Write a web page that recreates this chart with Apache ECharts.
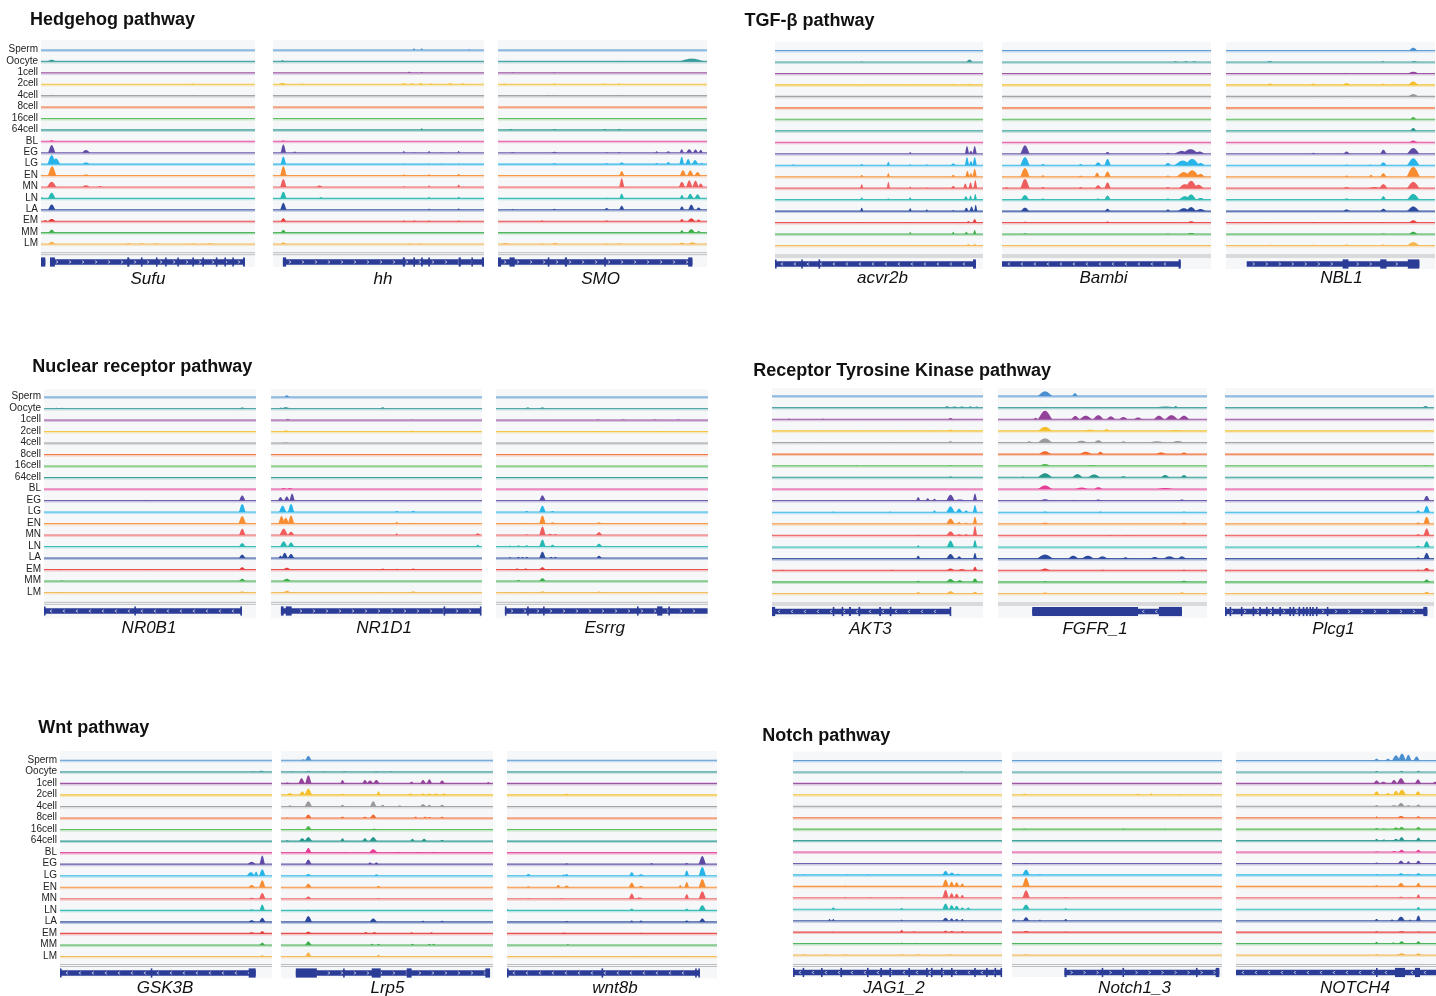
<!DOCTYPE html>
<html><head><meta charset="utf-8">
<script src="https://cdn.jsdelivr.net/npm/echarts/dist/echarts.min.js"></script>
<style>html,body{margin:0;padding:0;background:#fff}#c{width:1436px;height:996px}</style>
</head><body><div id="c"></div>
<script>
// ---------------- DATA ----------------
const STAGES = ['Sperm','Oocyte','1cell','2cell','4cell','8cell','16cell','64cell','BL','EG','LG','EN','MN','LN','LA','EM','MM','LM'];
const PATHWAYS = ['Hedgehog pathway','TGF-β pathway','Nuclear receptor pathway','Receptor Tyrosine Kinase pathway','Wnt pathway','Notch pathway'];
const GENES = [['Sufu','hh','SMO'],['acvr2b','Bambi','NBL1'],['NR0B1','NR1D1','Esrrg'],['AKT3','FGFR_1','Plcg1'],['GSK3B','Lrp5','wnt8b'],['JAG1_2','Notch1_3','NOTCH4']];

// peaks: [stage, position (% of locus), height (track spacings), width (% of locus)]
const SUFU_PEAKS = [
 ['Oocyte',5,0.15,4],['BL',5,0.1,2.5],['4cell',5,0.05,2],['4cell',71,0.05,1.5],['2cell',71,0.05,1.5],
 ['EG',5,0.67,3.5],['EG',21,0.23,4],
 ['LG',5,0.79,4],['LG',7,0.5,4],['LG',21,0.15,3.5],
 ['EN',5.2,0.8,4],['EN',21,0.1,3],
 ['MN',5,0.45,4.5],['MN',21,0.15,3.5],['MN',27.6,0.08,2],
 ['LN',5,0.5,3.5],['LN',0.5,0.08,2],
 ['LA',5,0.47,3.5],
 ['EM',5,0.2,3.5],['EM',2,0.08,2],
 ['MM',5,0.26,3],
 ['LM',5,0.2,3.5],['LM',41,0.06,3],['LM',47,0.06,3],['LM',54,0.05,3],['LM',71,0.05,3],['LM',79,0.06,4]
];
const HH_PEAKS = [
 ['Sperm',66.8,0.15,1.2],['Sperm',70.5,0.15,1.2],['Sperm',93,0.05,1.5],
 ['Oocyte',4.5,0.1,2],
 ['1cell',64.5,0.1,2],['1cell',70.5,0.08,1.2],
 ['2cell',4.5,0.1,4],['2cell',62,0.08,3],['2cell',66,0.08,2],['2cell',70,0.1,2],['2cell',75,0.07,2],['2cell',84,0.08,3],['2cell',90,0.07,2],['2cell',14,0.05,1.5],
 ['64cell',70.5,0.14,1],['BL',4.8,0.08,2],
 ['EG',4.9,0.73,2.6],['EG',10.4,0.1,1.5],['EG',62,0.15,1.2],['EG',74,0.15,1.2],['EG',88,0.15,1.2],['EG',67,0.05,1],['EG',80,0.05,1.5],
 ['LG',4.9,0.67,2.6],['LG',62,0.05,1],['LG',74,0.05,1],['LG',80,0.05,1],['LG',88,0.05,1],
 ['EN',4.9,0.82,3],['EN',62,0.12,1],['EN',74,0.12,1.2],['EN',88,0.14,1.5],
 ['MN',4.9,0.7,3],['MN',22,0.12,3],['MN',62,0.07,1],['MN',74,0.14,1],['MN',88,0.2,1.5],
 ['LN',4.9,0.58,3],['LN',22.7,0.1,2],['LN',74,0.14,1],['LN',88,0.15,1.2],
 ['LA',4.9,0.61,3],['LA',74,0.1,1],['LA',88,0.12,1.2],
 ['EM',4.9,0.27,2.5],['EM',62,0.05,1.5],['EM',67,0.05,1.5],['EM',74,0.05,1.5],['EM',88,0.05,1.5],
 ['MM',4.9,0.24,2.5],
 ['LM',4.9,0.15,2.5],['LM',65,0.05,2],['LM',70,0.05,1.5]
];
const SMO_PEAKS = [
 ['Oocyte',92.7,0.25,12],['Oocyte',5,0.04,3],['Oocyte',27,0.04,2],['Oocyte',52,0.04,2],['Oocyte',58,0.04,3],
 ['1cell',27,0.06,1],['1cell',7,0.05,1],
 ['2cell',3,0.05,2],['2cell',27,0.06,2],['2cell',51,0.06,2],['2cell',58,0.06,2],
 ['4cell',24,0.05,3],['4cell',27,0.06,2],['4cell',58,0.05,2],
 ['64cell',6,0.06,2],['64cell',27,0.06,2],['64cell',51,0.05,2],['64cell',58,0.05,2],
 ['EG',7,0.06,2],['EG',27,0.08,3],['EG',52,0.05,2],['EG',58,0.05,2],['EG',75.9,0.12,1.5],['EG',81.5,0.12,2],['EG',87.9,0.3,2],['EG',91.5,0.3,3],['EG',94.5,0.28,2.5],['EG',97,0.25,2],
 ['LG',27,0.08,2],['LG',52,0.08,2],['LG',59.2,0.15,2.5],['LG',75.9,0.1,1.5],['LG',81.5,0.18,2],['LG',87.9,0.64,2.2],['LG',91,0.45,2.5],['LG',94.3,0.35,3],['LG',97.4,0.1,2],
 ['EN',59.2,0.38,2.5],['EN',88.5,0.47,3],['EN',92,0.45,3],['EN',95.5,0.3,3],
 ['MN',59.2,0.76,2.4],['MN',88,0.45,3],['MN',91.5,0.58,3],['MN',94.5,0.55,3],['MN',97,0.3,2.5],
 ['LN',52,0.06,1.5],['LN',59.2,0.41,2.2],['LN',88,0.3,2],['LN',92,0.4,3],['LN',95.5,0.35,3],
 ['LA',7,0.06,1.5],['LA',27,0.08,2],['LA',52,0.15,2.5],['LA',59.2,0.35,2.5],['LA',88,0.3,2.2],['LA',92.5,0.45,3],['LA',96,0.2,2.5],
 ['EM',21,0.05,2],['EM',52,0.05,2],['EM',88,0.18,2],['EM',92.5,0.25,3.5],['EM',96,0.15,2],
 ['MM',88,0.2,2],['MM',92.5,0.3,3.5],['MM',96,0.15,2],
 ['LM',3.6,0.08,4],['LM',21,0.05,2],['LM',27.3,0.1,3],['LM',52,0.05,2],['LM',58,0.05,3],['LM',88,0.12,3],['LM',93,0.15,4]
];
const ACVR2B_PEAKS = [
 ['Oocyte',41.7,0.05,1],['Oocyte',93.5,0.22,3],['1cell',41.7,0.05,1],
 ['2cell',8.8,0.04,1],['2cell',41.7,0.05,1.5],['2cell',65,0.04,1],['2cell',85.7,0.05,1.5],['2cell',93.5,0.05,3],
 ['EG',65,0.15,1.2],['EG',92.3,0.67,2],['EG',96,0.67,2],['EG',94.2,0.25,2],
 ['LG',8.8,0.08,1],['LG',41.7,0.1,1.5],['LG',54.5,0.3,1.5],['LG',65,0.08,1],['LG',73,0.08,1],['LG',85.7,0.15,2.5],['LG',92.3,0.7,2],['LG',96,0.7,2],['LG',94.2,0.35,2],
 ['EN',41.7,0.15,1.5],['EN',54.5,0.3,1.5],['EN',85.7,0.15,2],['EN',92.5,0.5,2],['EN',96,0.7,2],['EN',94.2,0.3,2],
 ['MN',41.7,0.35,1.5],['MN',54.5,0.55,1.5],['MN',65,0.15,1],['MN',73,0.06,1],['MN',85.7,0.2,2],['MN',91.5,0.4,2],['MN',94,0.5,2],['MN',96.3,0.7,1.8],
 ['LN',41.7,0.2,1.5],['LN',54.5,0.1,1.5],['LN',65,0.2,1.5],['LN',73,0.06,1],['LN',91.8,0.3,2],['LN',94,0.35,1.5],['LN',96.3,0.5,1.5],
 ['LA',41.7,0.3,1.5],['LA',65,0.25,1.5],['LA',73,0.15,1.2],['LA',85.7,0.1,1],['LA',92,0.3,2],['LA',94.5,0.4,2],['LA',96.5,0.55,1.5],
 ['EM',41.7,0.05,1],['EM',65,0.05,1],['EM',85.7,0.05,1],['EM',96,0.3,2],['EM',93,0.12,2],
 ['MM',65,0.2,1],['MM',85.7,0.2,1.2],['MM',92,0.2,1.5],['MM',96,0.35,1.5],
 ['LM',65,0.05,1],['LM',85.7,0.06,1],['LM',93,0.12,2],['LM',96,0.15,1.5],['LM',41.7,0.04,1.5]
];
const BAMBI_PEAKS = [
 ['Oocyte',83,0.06,2],['Oocyte',88,0.07,2],['Oocyte',92,0.07,2],
 ['EG',11,0.73,4.5],['EG',50.5,0.15,2.5],['EG',79.4,0.08,2],['EG',86,0.25,7],['EG',90.2,0.4,8],['EG',94.5,0.2,5],
 ['LG',11,0.7,4.5],['LG',19.6,0.1,2],['LG',37.6,0.1,2],['LG',46,0.25,3],['LG',50.5,0.55,3],['LG',79.4,0.2,3],['LG',86.5,0.4,8],['LG',91,0.55,7],['LG',95,0.2,4],
 ['EN',11,0.75,4.5],['EN',19.6,0.12,2],['EN',37.6,0.08,2],['EN',45.5,0.35,2.5],['EN',50.5,0.45,3],['EN',79.4,0.1,2],['EN',87,0.4,7],['EN',91,0.55,7],['EN',95,0.25,4],
 ['MN',2.2,0.08,2],['MN',11,0.8,4.5],['MN',19.6,0.1,2],['MN',37.6,0.1,2],['MN',46,0.25,3],['MN',50.5,0.5,3],['MN',79.4,0.1,2],['MN',87.5,0.35,6],['MN',90.5,0.64,6],['MN',94,0.3,5],
 ['LN',11,0.4,4],['LN',19.6,0.1,2],['LN',46,0.1,2],['LN',50.5,0.35,3],['LN',79.4,0.1,2],['LN',87.5,0.3,6],['LN',90.5,0.45,5],['LN',95,0.15,4],
 ['LA',11,0.3,4],['LA',50.5,0.2,2.5],['LA',79.4,0.15,2],['LA',87,0.25,6],['LA',90.5,0.35,5],['LA',95,0.18,5],
 ['EM',11,0.08,2],['EM',50.5,0.1,2],['EM',79.4,0.05,1.5],['EM',90.5,0.12,4],
 ['MM',11,0.06,2],['MM',79.4,0.05,1.5],['MM',90.5,0.1,4],
 ['LM',11,0.05,2],['LM',50.5,0.04,2],['LM',90.5,0.05,4]
];
const NBL1_PEAKS = [
 ['Sperm',89.6,0.25,4],
 ['Oocyte',21,0.08,3],['Oocyte',75,0.06,2],['Oocyte',90,0.08,3],
 ['1cell',57.7,0.05,2],['1cell',89.6,0.15,5],
 ['2cell',21,0.12,3],['2cell',41.8,0.1,3],['2cell',57.7,0.15,4],['2cell',75.3,0.1,2],['2cell',89.6,0.3,5],
 ['4cell',41.8,0.04,2],['4cell',57.7,0.04,2],['4cell',89.6,0.2,5],
 ['16cell',89.6,0.2,3],['64cell',89.6,0.25,3],['BL',89.6,0.15,4],
 ['EG',41.8,0.08,2],['EG',57.7,0.2,3],['EG',75.3,0.35,3],['EG',89.6,0.5,6],
 ['LG',57.7,0.05,2],['LG',69,0.05,2],['LG',75.3,0.25,3],['LG',89.6,0.6,6],
 ['EN',57.7,0.1,2],['EN',69.4,0.15,2],['EN',75.3,0.3,3],['EN',89.6,0.85,6.5],
 ['MN',57.7,0.1,3],['MN',71,0.1,6],['MN',75.3,0.35,4],['MN',89.6,0.55,6],
 ['LN',57.7,0.1,3],['LN',75.3,0.3,2.5],['LN',89.6,0.5,6],['LN',28,0.04,2],
 ['LA',57.7,0.15,3],['LA',75.3,0.2,3],['LA',89.6,0.4,6],
 ['EM',21,0.05,2],['EM',41.8,0.05,2],['EM',57.7,0.05,2],['EM',75.3,0.05,2],['EM',89.6,0.2,4],
 ['MM',89.6,0.2,4],['MM',75.3,0.05,2],
 ['LM',21,0.06,4],['LM',41.8,0.06,3],['LM',57.7,0.08,4],['LM',75.3,0.08,3],['LM',89.6,0.3,6]
];
const NR0B1_PEAKS = [
 ['Oocyte',6,0.06,2],['Oocyte',8.5,0.06,2],['Oocyte',93.5,0.1,2.5],
 ['EG',93.5,0.44,3],['EG',48,0.04,1.5],['LG',93.5,0.7,3.2],['EN',93.5,0.65,3.5],['MN',93.5,0.55,3],
 ['LN',93.5,0.3,3],['LA',93.5,0.3,3],['EM',93.5,0.2,3],['EM',8,0.05,2],['EM',48,0.04,1.5],
 ['MM',93.5,0.2,3],['MM',8.5,0.05,1.5],['LM',93.5,0.1,3],['LM',6,0.04,2],['LM',8.5,0.04,2]
];
const NR1D1_PEAKS = [
 ['Sperm',7.5,0.15,2.5],
 ['Oocyte',4.5,0.08,2],['Oocyte',7,0.12,4],['Oocyte',53,0.12,2],
 ['1cell',8,0.08,2],['1cell',67,0.04,1],['2cell',7,0.08,4],['2cell',67,0.08,1.5],['2cell',98,0.06,1.5],
 ['4cell',7,0.04,4],['BL',6,0.08,3],['BL',9,0.08,3],
 ['EG',4.5,0.3,2.5],['EG',7.5,0.35,2.5],['EG',10,0.6,2.5],
 ['LG',5.5,0.55,3.5],['LG',9.5,0.7,3],['LG',59.6,0.1,1.5],['LG',67.4,0.1,2],
 ['EN',5,0.65,3],['EN',9.5,0.7,3],['EN',7,0.5,3],['EN',59.6,0.15,1.5],['EN',67.4,0.04,1.5],
 ['MN',6,0.55,4],['MN',9.5,0.3,3],['MN',59.6,0.15,1.2],['MN',98,0.15,2.5],
 ['LN',6,0.45,3.5],['LN',9.5,0.35,3],['LN',98,0.15,2],
 ['LA',4.5,0.2,2],['LA',6.5,0.45,3],['LA',9.5,0.35,3],
 ['EM',7.5,0.15,4],['EM',53,0.08,2],['EM',59.6,0.06,2],['EM',67.4,0.08,2.5],
 ['MM',7.5,0.2,4],
 ['LM',7.5,0.15,4],['LM',67.4,0.1,3],['LM',52,0.04,2],['LM',98,0.06,2]
];
const ESRRG_PEAKS = [
 ['Oocyte',15,0.1,2.5],['Oocyte',21.9,0.1,3],
 ['1cell',48,0.04,2],['1cell',60,0.04,2],['1cell',75,0.04,2],['1cell',86,0.04,2],
 ['2cell',48.6,0.05,1],['2cell',78,0.05,1],
 ['EG',21.9,0.45,3],
 ['LG',14.5,0.08,2],['LG',21.9,0.55,3],['LG',26.7,0.08,2],
 ['EN',14.5,0.05,2],['EN',21.9,0.7,3],['EN',26.7,0.1,2.5],['EN',48.6,0.1,2.5],
 ['MN',14.5,0.05,2],['MN',21.9,0.75,3],['MN',25.5,0.1,2.5],['MN',28,0.08,2],['MN',48.6,0.25,3],
 ['LN',6.6,0.08,1.5],['LN',10.6,0.1,2],['LN',14.5,0.1,2.5],['LN',21.9,0.6,3],['LN',26.7,0.15,2.5],['LN',48.6,0.25,3],
 ['LA',6.6,0.08,1.2],['LA',10.6,0.1,1.5],['LA',12.5,0.08,1.5],['LA',14.5,0.1,1.5],['LA',21.9,0.55,3],['LA',26,0.1,1.5],['LA',28,0.1,1.5],['LA',48.6,0.2,2.5],
 ['EM',7,0.05,1.5],['EM',10,0.08,3],['EM',14,0.08,3],['EM',21.9,0.2,3],['EM',48.6,0.05,1],
 ['MM',10.6,0.08,2],['MM',21.9,0.25,3],
 ['LM',6,0.04,2],['LM',12,0.05,2],['LM',21.9,0.1,3],['LM',28,0.06,2],['LM',48.6,0.08,3],['LM',76,0.05,2],['LM',83,0.04,2]
];
const AKT3_PEAKS = [
 ['Oocyte',54,0.04,1],['Oocyte',83,0.12,3],['Oocyte',86.5,0.1,3],['Oocyte',90,0.1,3],['Oocyte',94,0.12,2],['Oocyte',97,0.1,2],
 ['1cell',8,0.05,1.5],['1cell',24,0.05,1.5],['1cell',84.6,0.1,2.5],
 ['2cell',4,0.04,2],['2cell',8,0.04,2],['2cell',22,0.04,2],['2cell',43,0.04,2],['2cell',60,0.04,2],['2cell',77,0.05,1.5],['2cell',84.6,0.1,3],['2cell',96,0.05,1.5],
 ['4cell',10,0.03,2],['4cell',24,0.03,2],['4cell',40,0.03,2],['4cell',56,0.03,2],['4cell',84.6,0.1,3],
 ['16cell',40,0.04,1.5],['16cell',84.6,0.05,2],['64cell',84.6,0.08,2],
 ['EG',69.3,0.3,2],['EG',73.8,0.2,2],['EG',77,0.15,2],['EG',84.6,0.5,4],['EG',89,0.1,5],['EG',96.2,0.6,2],
 ['LG',29,0.05,1.5],['LG',56,0.05,1.5],['LG',77,0.15,1.5],['LG',84.6,0.5,4],['LG',88.7,0.3,3],['LG',92,0.15,2],['LG',96.2,0.6,2],
 ['EN',84.6,0.45,4],['EN',88.7,0.15,2],['EN',92,0.1,1.5],['EN',96.2,0.6,2],
 ['MN',69.3,0.05,1.5],['MN',84.6,0.35,4],['MN',88.7,0.1,3],['MN',92,0.1,2],['MN',96.2,0.8,2],
 ['LN',69.3,0.15,1.5],['LN',84.6,0.55,3.5],['LN',96.2,0.6,2],
 ['LA',69.3,0.25,2],['LA',84.6,0.4,4],['LA',88.7,0.2,2.5],['LA',96.2,0.5,1.8],
 ['EM',5,0.04,1.5],['EM',57,0.04,2],['EM',84.6,0.15,4],['EM',90,0.1,4],['EM',96.2,0.3,2],
 ['MM',69.3,0.1,1.5],['MM',84.6,0.25,4],['MM',89,0.15,3],['MM',96.2,0.3,2.5],
 ['LM',10,0.05,4],['LM',20,0.05,4],['LM',35,0.05,4],['LM',44,0.05,3],['LM',55,0.05,4],['LM',69.3,0.12,2.5],['LM',84.6,0.2,4],['LM',96.2,0.15,2.5]
];
const FGFR1_PEAKS = [
 ['Sperm',22.5,0.4,7],['Sperm',36.8,0.25,2.5],
 ['Oocyte',22.5,0.05,4],['Oocyte',80,0.1,10],['Oocyte',85,0.15,2],
 ['1cell',18,0.12,2],['1cell',22.5,0.73,7],['1cell',37,0.28,4],['1cell',42,0.3,6],['1cell',48,0.35,5],['1cell',54,0.25,4],['1cell',60,0.2,4],['1cell',67,0.15,4],['1cell',77,0.3,5],['1cell',83,0.35,6],['1cell',89,0.3,5],
 ['2cell',22.5,0.35,7],['2cell',44,0.1,6],['2cell',52,0.15,3],['2cell',85,0.08,6],
 ['4cell',15,0.1,3],['4cell',22.5,0.35,7],['4cell',40,0.15,6],['4cell',48,0.2,4],['4cell',60,0.1,3],['4cell',76,0.1,8],['4cell',86,0.12,6],
 ['8cell',22.5,0.25,6],['8cell',42,0.2,6],['8cell',49,0.2,3],['8cell',78,0.15,5],['8cell',89,0.15,3],
 ['16cell',22.5,0.15,5],['16cell',45,0.05,5],
 ['64cell',12,0.05,2],['64cell',22.5,0.35,7],['64cell',38,0.28,5],['64cell',46,0.25,6],['64cell',60,0.1,3],['64cell',80,0.2,4],['64cell',89,0.2,3],
 ['BL',22.5,0.3,7],['BL',40,0.12,6],['BL',48,0.15,4],['BL',80,0.08,8],
 ['EG',22.5,0.12,5],['EG',36,0.05,2],['EG',48,0.1,3],['EG',88,0.1,3],
 ['LG',22.5,0.05,3],['LG',49,0.05,2],['LG',89,0.05,2],
 ['EN',22.5,0.1,4],['EN',89,0.1,3],
 ['MN',54,0.04,2],['MN',62,0.04,2],
 ['LA',22.5,0.35,8],['LA',36,0.25,5],['LA',43,0.25,6],['LA',50,0.2,5],['LA',61,0.12,3],['LA',75,0.15,4],['LA',82,0.2,6],['LA',88,0.2,4],
 ['EM',22.5,0.15,5],['EM',50,0.05,2],['EM',89,0.05,2],
 ['MM',22.5,0.05,2],['MM',89,0.1,3],
 ['LM',22.5,0.08,5],['LM',88,0.1,3]
];
const PLCG1_PEAKS = [
 ['Oocyte',96,0.15,3],['2cell',96,0.05,2],['16cell',96,0.04,2],
 ['EG',96.5,0.4,3],
 ['LG',92.4,0.15,2],['LG',96.5,0.55,3],
 ['EN',92.4,0.12,2],['EN',96.5,0.6,3.2],
 ['MN',92.4,0.12,2],['MN',96.5,0.6,3],
 ['LN',92.4,0.12,2],['LN',96.5,0.5,3],
 ['LA',92.4,0.12,1.5],['LA',96.5,0.5,3],
 ['EM',92.4,0.05,2],['EM',96.5,0.2,3],
 ['MM',96.5,0.2,3],
 ['LM',4,0.03,2],['LM',60,0.03,2],['LM',96.5,0.15,3]
];
const GSK3B_PEAKS = [
 ['Oocyte',95,0.1,3],['Oocyte',91,0.05,3],
 ['EG',90.4,0.2,4],['EG',95.4,0.75,2.5],
 ['LG',90,0.3,4],['LG',95.4,0.55,3],['LG',92.5,0.35,2],
 ['EN',90.4,0.2,3],['EN',95.4,0.6,3],
 ['MN',90.4,0.1,3],['MN',95.4,0.5,3],
 ['LN',90.4,0.08,3],['LN',95.4,0.5,2.5],
 ['LA',90.4,0.15,3],['LA',95.4,0.35,3],
 ['EM',90.4,0.1,3],['EM',95.4,0.2,2.5],
 ['MM',95.4,0.2,2.5],['LM',95.4,0.1,2.5]
];
const LRP5_PEAKS = [
 ['Sperm',12.9,0.38,3],['Sperm',10.5,0.08,2],
 ['Oocyte',5,0.05,2],['Oocyte',12.9,0.08,3],['Oocyte',20,0.05,2],['Oocyte',30,0.05,3],['Oocyte',45,0.05,3],['Oocyte',52,0.05,3],
 ['1cell',3,0.08,2],['1cell',9.7,0.45,3],['1cell',12.9,0.7,3],['1cell',29,0.3,2],['1cell',39.6,0.3,2.5],['1cell',42,0.25,3],['1cell',45,0.3,3],['1cell',61.6,0.15,2],['1cell',67,0.3,2.5],['1cell',70,0.35,2.5],['1cell',76,0.25,2.5],['1cell',97.8,0.1,2],
 ['2cell',4.2,0.15,3],['2cell',12.9,0.55,3.5],['2cell',10,0.3,3],['2cell',29,0.1,2],['2cell',46,0.3,2],['2cell',61,0.12,2],['2cell',67,0.12,2],['2cell',70,0.12,2],['2cell',73,0.12,2],['2cell',77,0.12,2],
 ['4cell',4.2,0.1,2],['4cell',12.9,0.45,3.5],['4cell',29,0.15,2],['4cell',43.5,0.45,3],['4cell',48,0.15,2],['4cell',56,0.1,2],['4cell',67,0.2,3],['4cell',70,0.15,2],['4cell',76,0.15,2.5],
 ['8cell',12.9,0.3,3],['8cell',3,0.06,1],['8cell',29,0.12,2],['8cell',39.6,0.12,2],['8cell',43.5,0.3,3],['8cell',63.5,0.12,1.5],['8cell',68,0.12,1.5],['8cell',70,0.1,1.5],['8cell',76,0.12,1.5],
 ['16cell',12.9,0.3,3],['16cell',61.6,0.05,1.5],['16cell',44,0.08,2],
 ['64cell',3,0.08,1.5],['64cell',12.9,0.35,3.5],['64cell',10,0.25,3],['64cell',29,0.25,2],['64cell',39.6,0.25,2.5],['64cell',43.5,0.35,3.5],['64cell',62,0.2,2],['64cell',67.5,0.2,2.5],['64cell',76,0.1,2],
 ['BL',12.9,0.4,3],['BL',43.5,0.3,4],['BL',30,0.05,2],['BL',55,0.05,4],['BL',65,0.05,4],['BL',72,0.05,4],
 ['EG',12.9,0.4,3],['EG',42,0.15,2],['EG',45,0.15,2],
 ['LG',12.9,0.15,3],['LG',45,0.12,2],
 ['EN',12.9,0.3,3],['EN',46,0.12,2],
 ['MN',12.9,0.2,3],['MN',46,0.05,2],
 ['LN',12.9,0.05,2],
 ['LA',12.9,0.5,3.5],['LA',43.5,0.3,3.5],['LA',67,0.1,1.5],['LA',76,0.1,1.5],
 ['EM',12.9,0.15,3],['EM',40,0.12,2],['EM',44,0.12,2],['EM',61.6,0.1,1.5],['EM',71,0.1,1.5],
 ['MM',12.9,0.3,3],['MM',43,0.1,1.5],['MM',46,0.1,1.5],['MM',62,0.1,1.5],['MM',70,0.1,1.5],['MM',72,0.1,1.5],
 ['LM',12.9,0.35,3],['LM',46,0.15,2]
];
const WNT8B_PEAKS = [
 ['2cell',28.4,0.1,2.5],
 ['EG',28.4,0.08,1.5],['EG',68.9,0.1,1.5],['EG',85.6,0.1,2],['EG',93,0.7,3.5],
 ['LG',10.2,0.15,2.5],['LG',27,0.1,2],['LG',28.4,0.15,2],['LG',59.4,0.3,2.5],['LG',63.8,0.12,3],['LG',85.6,0.45,2.2],['LG',93,0.75,3.5],
 ['EN',10.2,0.1,1.5],['EN',24.4,0.2,2],['EN',28.4,0.15,2.5],['EN',59.4,0.4,2.8],['EN',63.8,0.12,2.5],['EN',82.5,0.2,1.5],['EN',85.6,0.45,2.2],['EN',93,0.7,3.5],
 ['MN',10.2,0.05,2],['MN',26,0.05,3],['MN',59.4,0.45,2.8],['MN',63,0.12,4],['MN',85.6,0.4,2.2],['MN',93,0.65,3.5],
 ['LN',0.3,0.1,1],['LN',59.4,0.15,2],['LN',85.6,0.15,2],['LN',93,0.45,3.5],
 ['LA',28.4,0.08,1.5],['LA',59.4,0.12,1.5],['LA',63.8,0.12,1.5],['LA',85.6,0.12,2],['LA',93,0.3,3],
 ['EM',27,0.06,3],['EM',63.8,0.05,1.5],
 ['MM',29,0.08,1],
 ['LM',25,0.05,3],['LM',63,0.04,3],['LM',85,0.05,3]
];
const JAG1_2_PEAKS = [
 ['Oocyte',80.7,0.06,1],['2cell',4,0.04,1],['2cell',26,0.04,1],
 ['LG',5,0.05,1],['LG',26,0.04,1],['LG',36,0.04,1],['LG',73,0.35,3],['LG',76,0.2,3],['LG',79,0.1,2],
 ['EN',25,0.06,2],['EN',48,0.04,1.5],['EN',73,0.6,3],['EN',75.9,0.4,2.5],['EN',78.3,0.35,2.5],['EN',81,0.25,2],
 ['MN',25,0.05,2],['MN',37,0.05,2],['MN',52,0.05,1.5],['MN',73,0.7,3],['MN',75.9,0.4,2.5],['MN',78.3,0.35,2.5],['MN',81,0.25,2],
 ['LN',19.3,0.15,2],['LN',52,0.12,1.5],['LN',73,0.5,3],['LN',75.9,0.35,2.5],['LN',78.3,0.3,2.5],['LN',81,0.15,2],['LN',83.9,0.15,2],
 ['LA',17.5,0.15,1.2],['LA',19.3,0.15,1.2],['LA',52,0.1,1],['LA',73,0.25,3],['LA',75.9,0.2,2],['LA',78.3,0.15,2],['LA',81,0.15,1.5],
 ['EM',19,0.04,1],['EM',52,0.2,1.5],['EM',58,0.05,2],['EM',73,0.12,2],['EM',76,0.1,2],['EM',81,0.1,1.5],
 ['MM',52,0.08,1.5],['MM',59,0.06,1.5],['MM',76,0.05,1.5],
 ['LM',5,0.05,3],['LM',16,0.05,3],['LM',25,0.04,3],['LM',52,0.05,3],['LM',60,0.05,3],['LM',75,0.05,4]
];
const NOTCH1_3_PEAKS = [
 ['2cell',6,0.1,2.5],['2cell',60,0.1,2],['2cell',66.3,0.12,2],['2cell',80,0.05,2],['2cell',95,0.05,2],
 ['16cell',6,0.04,2],['16cell',53,0.05,1.5],['16cell',73,0.04,1],
 ['EG',6.7,0.05,2],
 ['LG',6.7,0.47,3.5],['LG',13.3,0.05,1.5],
 ['EN',6.7,0.76,3.5],['EN',25.6,0.04,1.5],
 ['MN',6.7,0.65,3.5],['MN',25.6,0.08,1.5],
 ['LN',6.7,0.4,3.5],['LN',25.6,0.1,1.5],
 ['LA',1,0.15,1],['LA',6.7,0.3,3],['LA',13.3,0.1,1],['LA',25.6,0.15,1.5],
 ['EM',6.7,0.1,3],['EM',25.6,0.05,1.5],
 ['LM',6.7,0.05,3]
];
const NOTCH4_PEAKS = [
 ['Sperm',70.3,0.15,3],['Sperm',76,0.15,3],['Sperm',80,0.45,4],['Sperm',83,0.6,4],['Sperm',86.2,0.5,3],['Sperm',90.3,0.35,3],
 ['Oocyte',70.3,0.08,2],['Oocyte',82.8,0.1,2],['Oocyte',91.2,0.1,2],
 ['1cell',70.3,0.25,3],['1cell',73.7,0.15,3],['1cell',79,0.3,3],['1cell',82.5,0.45,4],['1cell',91,0.35,3],['1cell',99.5,0.15,2],
 ['2cell',70.3,0.3,3],['2cell',76,0.15,3],['2cell',80,0.35,3],['2cell',83,0.45,4],['2cell',91,0.3,3],
 ['4cell',70.3,0.1,2],['4cell',79,0.1,3],['4cell',82.5,0.3,3.5],['4cell',86.2,0.1,2],['4cell',91.2,0.15,2.5],
 ['8cell',70.3,0.12,1],['8cell',82.5,0.15,4],['8cell',91.2,0.12,2.5],
 ['16cell',70.3,0.1,2],['16cell',74,0.05,2],['16cell',80,0.15,3],['16cell',82.8,0.2,3],['16cell',91.2,0.2,2.5],
 ['64cell',70.3,0.15,2],['64cell',74,0.1,2],['64cell',80,0.15,3],['64cell',82.8,0.3,3],['64cell',91.2,0.25,2.5],
 ['BL',70.3,0.05,2],['BL',79,0.1,2],['BL',82.8,0.2,3],['BL',91.2,0.2,2.5],
 ['EG',70.3,0.08,2],['EG',82.5,0.25,3],['EG',86.2,0.2,2],['EG',91.2,0.25,2.5],
 ['LG',70.3,0.05,2],['LG',82.5,0.15,3],['LG',86,0.05,2],['LG',91.2,0.15,2.5],
 ['EN',70.3,0.1,2],['EN',82.5,0.3,3.5],['EN',91.2,0.3,2.5],
 ['MN',82.5,0.1,3],['MN',87,0.05,2],['MN',91.2,0.3,2],
 ['LN',91.2,0.2,2],
 ['LA',70.3,0.15,2],['LA',78,0.1,2],['LA',82.5,0.35,4],['LA',87,0.1,1.5],['LA',91.2,0.45,2.5],
 ['EM',70.3,0.08,2],['EM',82.8,0.08,4],['EM',91.2,0.05,2],
 ['MM',70.3,0.15,2],['MM',78.7,0.1,2],['MM',82.8,0.2,3],['MM',91.2,0.2,2.5],
 ['LM',70.3,0.08,2],['LM',82.8,0.15,5],['LM',91.2,0.15,3]
];

// gene models: spans (% of locus), exons (% of locus), strand
const SUFU_SPANS = [[0,2],[4.2,95.3]];
const SUFU_EXONS = [[0,2],[4.2,6.5],[40.3,41.3],[46.7,47.4],[53.7,54.4],[58,58.7],[63.7,64.4],[70.7,71.4],[75.4,76.1],[81.7,82.4],[85.7,86.4],[89.4,90.1],[94.4,95.3]];
const HH_SPANS = [[4.7,100]];
const HH_EXONS = [[4.7,6.2],[61.5,62.5],[66.5,67.3],[70.2,71],[73.6,74.4],[88,89],[94,94.7],[99,100]];
const SMO_SPANS = [[0,93]];
const SMO_EXONS = [[0,1.5],[5.5,8],[23.8,24.6],[32,33],[50.8,51.6],[91,93]];
const ACVR2B_SPANS = [[0,96.6]];
const ACVR2B_EXONS = [[0,0.6],[12.6,13.2],[20.9,21.7],[95.2,96.6]];
const BAMBI_SPANS = [[0,85.5]];
const BAMBI_EXONS = [[84.5,85.5]];
const NBL1_SPANS = [[9.9,92.5]];
const NBL1_EXONS = [[55.8,58.6],[73.8,76.8],[87,92.5]];
const NR0B1_SPANS = [[0,93.4]];
const NR0B1_EXONS = [[0,0.5],[42.6,43.1],[92.6,93.4]];
const NR1D1_SPANS = [[4.7,99.5]];
const NR1D1_EXONS = [[4.7,6],[7,9.8],[81.8,82.5],[99,99.7]];
const ESRRG_SPANS = [[4.2,99.8]];
const ESRRG_EXONS = [[4.2,4.8],[14.7,15.3],[22.2,22.8],[66.5,67.2],[76,78.5],[81.3,82]];
const AKT3_SPANS = [[0,84.8]];
const AKT3_EXONS = [[0,1.5],[28.8,29.5],[33,33.6],[36.5,37.4],[41,41.8],[50.8,51.6],[55.8,56.6],[84.2,84.8]];
const FGFR1_SPANS = [[16.4,88]];
const FGFR1_EXONS = [[16.4,67],[77,88]];
const PLCG1_SPANS = [[0,96.8]];
const PLCG1_EXONS = [[0,0.8],[2.2,2.7],[7.6,8.2],[13.2,13.8],[16.4,17],[19.6,20.2],[22.5,23.1],[26,26.6],[30.8,31.4],[32.4,33],[35.2,35.8],[37.2,37.8],[38.8,39.4],[40.4,41],[41.7,42.2],[43.5,44.1],[48.7,49.3],[94.9,96.8]];
const GSK3B_SPANS = [[0,92.3]];
const GSK3B_EXONS = [[0,0.5],[42.8,43.5],[89,92.3]];
const LRP5_SPANS = [[7,98.6]];
const LRP5_EXONS = [[7,16.9],[29.3,30],[42.8,47],[59.3,61.6],[96.4,98.6]];
const WNT8B_SPANS = [[0,91.8]];
const WNT8B_EXONS = [[0,0.5],[45,45.8],[89.6,90.3],[91.1,91.8]];
const JAG1_2_SPANS = [[0,100]];
const JAG1_2_EXONS = [[0,0.6],[4.6,5.2],[13.4,14],[22.7,23.3],[35.4,36],[41.8,42.4],[46.1,46.7],[55.2,55.8],[63.7,64.3],[66,66.6],[70.8,71.4],[75.6,76.2],[86.7,87.3],[92.4,93],[96.4,97],[99.3,100]];
const NOTCH1_3_SPANS = [[25,98.7]];
const NOTCH1_3_EXONS = [[25,26],[42.7,43.4],[52.6,53.3],[87.6,88.3],[97,98.7]];
const NOTCH4_SPANS = [[0,100]];
const NOTCH4_EXONS = [[70,70.7],[79.5,84.5],[89.5,92]];

const GENE_TRACKS = {
 Sufu:[SUFU_PEAKS,SUFU_SPANS,SUFU_EXONS,'+'], hh:[HH_PEAKS,HH_SPANS,HH_EXONS,'+'], SMO:[SMO_PEAKS,SMO_SPANS,SMO_EXONS,'+'],
 acvr2b:[ACVR2B_PEAKS,ACVR2B_SPANS,ACVR2B_EXONS,'-'], Bambi:[BAMBI_PEAKS,BAMBI_SPANS,BAMBI_EXONS,'-'], NBL1:[NBL1_PEAKS,NBL1_SPANS,NBL1_EXONS,'+'],
 NR0B1:[NR0B1_PEAKS,NR0B1_SPANS,NR0B1_EXONS,'-'], NR1D1:[NR1D1_PEAKS,NR1D1_SPANS,NR1D1_EXONS,'+'], Esrrg:[ESRRG_PEAKS,ESRRG_SPANS,ESRRG_EXONS,'+'],
 AKT3:[AKT3_PEAKS,AKT3_SPANS,AKT3_EXONS,'-'], FGFR_1:[FGFR1_PEAKS,FGFR1_SPANS,FGFR1_EXONS,'-'], Plcg1:[PLCG1_PEAKS,PLCG1_SPANS,PLCG1_EXONS,'+'],
 GSK3B:[GSK3B_PEAKS,GSK3B_SPANS,GSK3B_EXONS,'-'], Lrp5:[LRP5_PEAKS,LRP5_SPANS,LRP5_EXONS,'+'], wnt8b:[WNT8B_PEAKS,WNT8B_SPANS,WNT8B_EXONS,'-'],
 JAG1_2:[JAG1_2_PEAKS,JAG1_2_SPANS,JAG1_2_EXONS,'-'], Notch1_3:[NOTCH1_3_PEAKS,NOTCH1_3_SPANS,NOTCH1_3_EXONS,'+'], NOTCH4:[NOTCH4_PEAKS,NOTCH4_SPANS,NOTCH4_EXONS,'-']
};

// ---------------- STYLE / LAYOUT ----------------
const STAGE_COLORS = ['#4a90d0','#3c9c9c','#93439a','#f4bf2a','#9a9a9a','#f26a30','#4db84a','#24968c','#e63f98',
  '#5f4ba6','#27b4e8','#f78c30','#ef5e5e','#26b8b2','#2b4a9e','#e63c3c','#3bae49','#f6b54a'];
const GENE_COLOR = '#2b3c97';
const BG = '#f6f7f9';
const FONT = 'Liberation Sans, Arial, Helvetica, sans-serif';
const LAYOUT = [
 {title:[30,11.3], spermY:50, lmY:244, bgTop:40, bgBottom:267, lineY:252.7, geneY:262, labelY:279, trackLabels:true, panels:[[41,214,0],[273,211,4.5],[498,209,-2]]},
 {title:[744.5,12.3], spermY:50.5, lmY:245.5, bgTop:42, bgBottom:269, lineY:255, geneY:264, labelY:278.5, trackLabels:false, panels:[[775,208,3.5],[1002,209,-3],[1226,209,11]]},
 {title:[32.3,357.8], spermY:397, lmY:592.5, bgTop:389, bgBottom:618.5, lineY:602.3, geneY:611, labelY:628.5, trackLabels:true, panels:[[44,212,-1],[271,211,7.5],[496,212,2.7]]},
 {title:[753.3,362.5], spermY:396, lmY:593.5, bgTop:388, bgBottom:618, lineY:603, geneY:611.5, labelY:629, trackLabels:false, panels:[[772,211,-7],[998,209,-7.5],[1225,209,4]]},
 {title:[38.3,719], spermY:760.3, lmY:956.5, bgTop:751, bgBottom:978.5, lineY:964.5, geneY:973, labelY:988, trackLabels:true, panels:[[60,212,-1],[281,212,0.5],[507,210,3]]},
 {title:[762.3,727], spermY:760.5, lmY:955, bgTop:751.5, bgBottom:977, lineY:964.5, geneY:972.5, labelY:988, trackLabels:false, panels:[[793,209,-3.5],[1012,210,17.5],[1236,200,19]]}
];

// ---------------- BUILD ----------------
// peak outline profile (fuller mountain shape)
function profile(u){ return Math.pow(Math.cos(Math.PI*u/2), 1.25); }

function trackRenderer(peaks, showLabels){
  return function(params, api){
    const t = api.value(1);
    const color = STAGE_COLORS[t];
    const a = api.coord([0, t]), b = api.coord([100, t]);
    const ch = [];
    ch.push({type:'rect', shape:{x:a[0], y:a[1]-0.3, width:b[0]-a[0], height:2.3}, style:{fill:color, opacity:0.28}});
    ch.push({type:'line', shape:{x1:a[0], y1:a[1], x2:b[0], y2:b[1]}, style:{stroke:color, lineWidth:1.1, opacity:0.85}});
    peaks.forEach(p => {
      if (p[0] !== STAGES[t]) return;
      const pts = [];
      const N = 16;
      for (let k = 0; k <= N; k++) {
        const u = -1 + 2*k/N;
        const x = Math.max(0, Math.min(100, p[1] + u*p[3]/2));
        pts.push(api.coord([x, t - p[2]*profile(u)]));
      }
      ch.push({type:'polygon', shape:{points:pts}, style:{fill:color}});
    });
    if (showLabels) {
      ch.push({type:'text', x:a[0]-3, y:a[1]-0.5, style:{text:STAGES[t], align:'right', verticalAlign:'middle', fontSize:10, fontFamily:FONT, fill:'#222'}});
    }
    return {type:'group', children:ch};
  };
}

function geneRenderer(spans, exons, strand, lay, name, dx){
  const step = (lay.lmY - lay.spermY)/17;
  const v = y => (y - lay.spermY)/step;
  return function(params, api){
    const ch = [];
    const L = api.coord([0, v(lay.lineY)]), R = api.coord([100, v(lay.lineY)]);
    [0, 2].forEach(off => ch.push({type:'line', shape:{x1:L[0], y1:L[1]+off, x2:R[0], y2:R[1]+off}, style:{stroke:'#bdbdbd', lineWidth:1}}));
    const gy = api.coord([0, v(lay.geneY)])[1];
    spans.forEach(s => {
      const x0 = api.coord([s[0], 0])[0], x1 = api.coord([s[1], 0])[0];
      ch.push({type:'rect', shape:{x:x0, y:gy-2.8, width:x1-x0, height:5.6}, style:{fill:GENE_COLOR}});
      const d = strand === '+' ? -1.1 : 1.1;
      for (let x = x0 + 7; x < x1 - 4; x += 13) {
        ch.push({type:'polyline', shape:{points:[[x+d, gy-1.4],[x-d, gy],[x+d, gy+1.4]]}, style:{stroke:'rgba(255,255,255,0.75)', lineWidth:0.8, fill:null}});
      }
    });
    exons.forEach(e => {
      const x0 = api.coord([e[0], 0])[0], x1 = api.coord([e[1], 0])[0];
      ch.push({type:'rect', shape:{x:x0, y:gy-4.6, width:Math.max(1.6, x1-x0), height:9.2}, style:{fill:GENE_COLOR}});
    });
    const cx = api.coord([50, 0])[0] + dx;
    const ly = api.coord([0, v(lay.labelY)])[1];
    ch.push({type:'text', x:cx, y:ly, style:{text:name, align:'center', verticalAlign:'middle', fontSize:17, fontStyle:'italic', fontFamily:FONT, fill:'#111'}});
    return {type:'group', children:ch};
  };
}

const grids = [], xAxes = [], yAxes = [], series = [], titles = [];
LAYOUT.forEach((lay, pi) => {
  titles.push({text:PATHWAYS[pi], left:lay.title[0], top:lay.title[1], padding:0,
    textStyle:{fontSize:18, fontWeight:'bold', color:'#111', fontFamily:FONT}});
  const step = (lay.lmY - lay.spermY)/17;
  lay.panels.forEach((pn, gi) => {
    const idx = grids.length;
    const name = GENES[pi][gi];
    const g = GENE_TRACKS[name];
    grids.push({left:pn[0], top:lay.bgTop, width:pn[1], height:lay.bgBottom - lay.bgTop, show:true, backgroundColor:BG, borderWidth:0, containLabel:false});
    xAxes.push({gridIndex:idx, type:'value', min:0, max:100, show:false});
    yAxes.push({gridIndex:idx, type:'value', inverse:true, min:(lay.bgTop - lay.spermY)/step, max:(lay.bgBottom - lay.spermY)/step, show:false});
    series.push({type:'custom', xAxisIndex:idx, yAxisIndex:idx, clip:false, silent:true,
      renderItem: trackRenderer(g[0], lay.trackLabels && gi === 0),
      data: STAGES.map((s, i) => [0, i]), encode:{x:0, y:1}});
    series.push({type:'custom', xAxisIndex:idx, yAxisIndex:idx, clip:false, silent:true,
      renderItem: geneRenderer(g[1], g[2], g[3], lay, name, pn[2]),
      data: [[0, 0]], encode:{x:0, y:1}});
  });
});

const chart = echarts.init(document.getElementById('c'), null, {renderer:'canvas', width:1436, height:996});
chart.setOption({animation:false, backgroundColor:'#ffffff', title:titles, grid:grids, xAxis:xAxes, yAxis:yAxes, series:series});
</script></body></html>
